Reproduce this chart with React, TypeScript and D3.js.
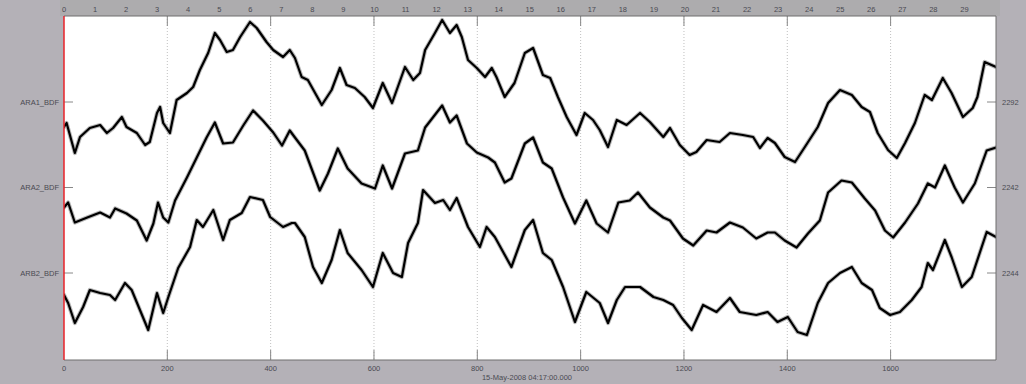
import React from "react";
import * as d3 from "d3";

// channel names / right-side values
const channels = ["ARA1_BDF", "ARA2_BDF", "ARB2_BDF"];
const rightLabels = ["2292", "2242", "2244"];
const bottomTicks = [0, 200, 400, 600, 800, 1000, 1200, 1400, 1600];
const gridTicks = [200, 400, 600, 800, 1000, 1200, 1400, 1600];
const minuteTicks = d3.range(0, 30);
const dateLabel = "15-May-2008 04:17:00.000";

// trace samples: [seconds, amplitude relative to channel offset]
const ara1: [number, number][] = [
  [0, -25], [5, -21], [21, -51], [31, -35], [50, -26], [70, -23], [83, -31], [95, -26], [112, -15], [121, -25],
  [141, -31], [157, -43], [166, -40], [180, -11], [186, -5], [192, -21], [205, -31], [218, 2], [238, 9], [250, 15],
  [263, 32], [279, 49], [292, 69], [302, 62], [315, 50], [327, 52], [341, 65], [360, 80], [373, 74], [392, 60],
  [405, 52], [424, 45], [437, 52], [447, 44], [460, 25], [472, 22], [499, -3], [518, 12], [534, 34], [547, 17],
  [563, 14], [582, 5], [598, -6], [617, 19], [635, -1], [660, 35], [676, 22], [689, 29], [699, 52], [718, 69],
  [732, 82], [747, 69], [760, 77], [770, 65], [782, 42], [799, 34], [815, 25], [828, 34], [837, 25], [853, 5],
  [872, 19], [892, 49], [908, 54], [927, 27], [941, 24], [956, 5], [973, -15], [992, -33], [1008, -11], [1024, -18],
  [1037, -28], [1053, -45], [1070, -18], [1089, -23], [1115, -11], [1134, -20], [1160, -35], [1173, -26], [1192, -43], [1211, -53],
  [1224, -50], [1244, -38], [1269, -40], [1289, -31], [1314, -33], [1334, -35], [1347, -46], [1362, -36], [1376, -41], [1395, -55],
  [1415, -60], [1434, -45], [1459, -25], [1479, -1], [1502, 12], [1525, 7], [1544, -5], [1560, -10], [1575, -31], [1595, -48],
  [1612, -56], [1628, -41], [1647, -21], [1666, 7], [1680, 2], [1701, 24], [1718, 9], [1740, -15], [1759, -6], [1768, 5],
  [1782, 40], [1804, 35],
];
const ara2: [number, number][] = [
  [0, -20], [8, -15], [21, -35], [45, -30], [70, -25], [89, -30], [99, -21], [121, -26], [141, -33], [160, -53],
  [173, -36], [182, -15], [192, -30], [202, -35], [215, -13], [238, 10], [257, 30], [276, 50], [292, 65], [308, 44],
  [327, 45], [347, 62], [366, 77], [385, 67], [405, 55], [422, 42], [437, 57], [447, 50], [466, 37], [495, -3],
  [511, 14], [530, 39], [549, 19], [576, 4], [602, -1], [617, 22], [635, -1], [660, 34], [685, 37], [699, 60],
  [732, 82], [747, 65], [760, 72], [780, 44], [799, 35], [821, 30], [834, 25], [853, 5], [866, 9], [892, 44],
  [908, 50], [927, 25], [944, 19], [966, -10], [989, -36], [1011, -13], [1031, -36], [1053, -45], [1073, -15], [1095, -13],
  [1111, -5], [1134, -20], [1160, -30], [1173, -33], [1198, -51], [1218, -58], [1244, -43], [1263, -45], [1289, -35], [1314, -40],
  [1340, -51], [1362, -45], [1376, -45], [1395, -53], [1418, -60], [1440, -46], [1463, -33], [1479, -5], [1505, 7], [1525, 5],
  [1550, -11], [1570, -23], [1589, -43], [1605, -50], [1628, -35], [1653, -16], [1672, 4], [1686, 0], [1705, 22], [1724, 0],
  [1740, -15], [1763, 4], [1786, 37], [1804, 40],
];
const arb2: [number, number][] = [
  [0, -22], [8, -30], [21, -50], [37, -34], [50, -17], [70, -20], [89, -22], [99, -27], [118, -10], [131, -17],
  [147, -37], [163, -57], [180, -20], [192, -40], [202, -24], [221, 5], [244, 26], [257, 53], [269, 46], [289, 63],
  [308, 33], [321, 53], [344, 60], [360, 76], [385, 73], [399, 56], [424, 46], [441, 50], [447, 50], [466, 36],
  [482, 6], [499, -10], [518, 13], [534, 43], [549, 20], [576, 3], [598, -14], [617, 20], [637, 0], [654, -4],
  [666, 30], [685, 50], [695, 83], [718, 70], [734, 73], [747, 63], [760, 75], [782, 46], [805, 26], [818, 46],
  [834, 36], [866, 6], [892, 43], [908, 53], [927, 20], [944, 13], [966, -14], [989, -49], [1011, -19], [1037, -30],
  [1053, -50], [1070, -27], [1086, -14], [1115, -14], [1141, -24], [1160, -27], [1179, -32], [1196, -45], [1215, -57], [1237, -32],
  [1263, -39], [1289, -25], [1308, -39], [1340, -42], [1362, -39], [1381, -49], [1401, -44], [1420, -59], [1438, -62], [1459, -30],
  [1479, -10], [1502, 0], [1525, 6], [1544, -10], [1564, -17], [1579, -35], [1599, -42], [1618, -39], [1641, -27], [1660, -14],
  [1672, 10], [1682, 3], [1705, 33], [1718, 16], [1738, -14], [1757, -4], [1786, 41], [1804, 36],
];
const traces = [ara1, ara2, arb2];

export default function App() {
  const W = 1026, H = 384;
  const left = 64, right = 996, top = 16, bottom = 360;
  const x = d3.scaleLinear().domain([0, 1804]).range([left, right]);
  const chanY = d3.scalePoint<string>().domain(channels).range([102, 273]);
  const amp = d3.scaleLinear().domain([0, 1]).range([0, -1]);
  const minuteX = (m: number) => x(m * 60.1);
  const font = "'Liberation Sans', Arial, sans-serif";
  const textCol = "#4a4a52";

  const lines = traces.map((tr, i) =>
    d3
      .line<[number, number]>()
      .x((d) => x(d[0]))
      .y((d) => (chanY(channels[i]) as number) + amp(d[1]))
      .curve(d3.curveLinear)(tr) as string
  );

  return (
    <svg width={W} height={H} style={{ position: "absolute", left: 0, top: 0 }} xmlns="http://www.w3.org/2000/svg">
      <rect x={0} y={0} width={W} height={H} fill="#b4b1b7" />
      <rect x={left - 4} y={0} width={right - left + 8} height={top} fill="#adacae" />
      <defs>
        <clipPath id="plotclip">
          <rect x={left} y={top} width={right - left} height={bottom - top} />
        </clipPath>
      </defs>
      <rect x={left} y={top} width={right - left} height={bottom - top} fill="#ffffff" />
      {/* grid */}
      {gridTicks.map((t) => (
        <line key={"g" + t} x1={x(t)} x2={x(t)} y1={top} y2={bottom} stroke="#b0b0b0" strokeWidth={0.8} strokeDasharray="1,2" />
      ))}
      {/* ticks top & bottom */}
      {gridTicks.map((t) => (
        <g key={"t" + t}>
          <line x1={x(t)} x2={x(t)} y1={top} y2={top + 10} stroke="#888" strokeWidth={1} />
          <line x1={x(t)} x2={x(t)} y1={bottom - 10} y2={bottom} stroke="#888" strokeWidth={1} />
        </g>
      ))}
      {/* channel ticks */}
      {channels.map((c) => (
        <g key={"ct" + c}>
          <line x1={left} x2={left + 9} y1={chanY(c)} y2={chanY(c)} stroke="#888" strokeWidth={1} />
          <line x1={right - 9} x2={right} y1={chanY(c)} y2={chanY(c)} stroke="#888" strokeWidth={1} />
        </g>
      ))}
      {/* traces: fuzzy halo + dark core */}
      <g clipPath="url(#plotclip)">
        {lines.map((d, i) => (
          <path key={"h" + i} d={d} fill="none" stroke="#333" strokeOpacity={0.35} strokeWidth={4.2} strokeLinejoin="round" strokeLinecap="round" />
        ))}
        {lines.map((d, i) => (
          <path key={"l" + i} d={d} fill="none" stroke="#000" strokeWidth={2.2} strokeLinejoin="round" strokeLinecap="round" />
        ))}
      </g>
      {/* frame */}
      <line x1={left} x2={right} y1={top} y2={top} stroke="#6e6e6e" strokeWidth={1} />
      <line x1={left} x2={right} y1={bottom} y2={bottom} stroke="#6e6e6e" strokeWidth={1} />
      <line x1={right} x2={right} y1={top} y2={bottom} stroke="#6e6e6e" strokeWidth={1} />
      <line x1={left} x2={left} y1={top} y2={bottom} stroke="#e8232a" strokeWidth={1.5} />
      {/* labels */}
      {minuteTicks.map((m) => (
        <text key={"m" + m} x={minuteX(m)} y={12} fontSize={7.5} fontFamily={font} fill={textCol} textAnchor="middle">
          {m}
        </text>
      ))}
      {bottomTicks.map((t) => (
        <text key={"b" + t} x={x(t)} y={371} fontSize={7.5} fontFamily={font} fill={textCol} textAnchor="middle">
          {t}
        </text>
      ))}
      <text x={527} y={380} fontSize={7.5} fontFamily={font} fill={textCol} textAnchor="middle">
        {dateLabel}
      </text>
      {channels.map((c) => (
        <text key={"cl" + c} x={59} y={(chanY(c) as number) + 2.5} fontSize={7.5} fontFamily={font} fill={textCol} textAnchor="end">
          {c}
        </text>
      ))}
      {channels.map((c, i) => (
        <text key={"rl" + c} x={1002} y={(chanY(c) as number) + 2.5} fontSize={7.5} fontFamily={font} fill={textCol} textAnchor="start">
          {rightLabels[i]}
        </text>
      ))}
    </svg>
  );
}
